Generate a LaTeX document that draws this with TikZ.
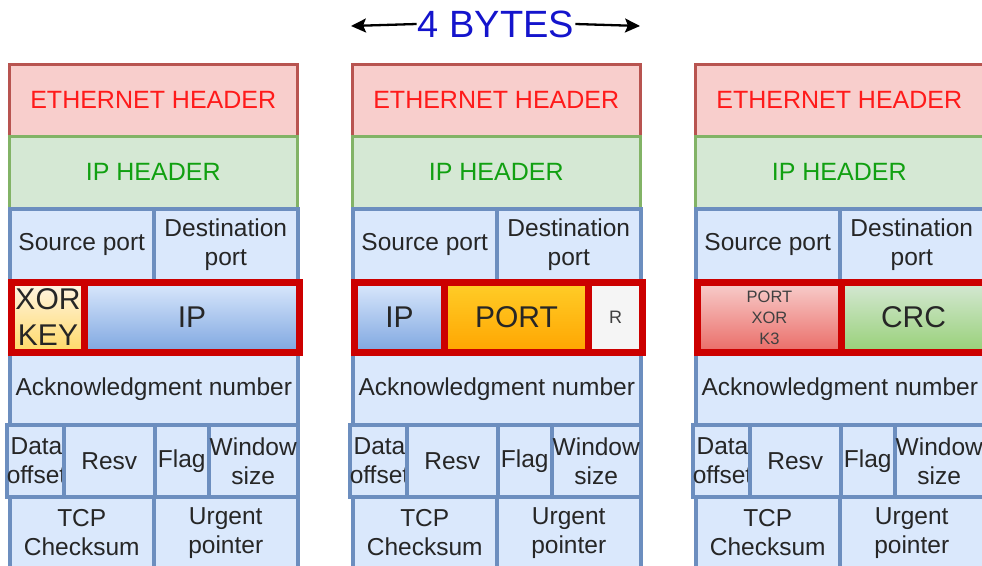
\documentclass[tikz,border=0pt]{standalone}
\usepackage{fontspec}
\setmainfont{Liberation Sans}
\usetikzlibrary{arrows.meta}
\definecolor{ethfill}{HTML}{F8CECC}
\definecolor{ethline}{HTML}{B85450}
\definecolor{ethtext}{HTML}{FF1A1A}
\definecolor{iphfill}{HTML}{D5E8D4}
\definecolor{iphline}{HTML}{82B366}
\definecolor{iphtext}{HTML}{11A011}
\definecolor{tcpfill}{HTML}{DAE8FC}
\definecolor{tcpline}{HTML}{6C8EBF}
\definecolor{keyline}{HTML}{CC0000}
\definecolor{bytetext}{HTML}{1414CC}

\begin{document}
\begin{tikzpicture}[x=1pt, y=-1pt,
  cell/.style={inner sep=0pt, anchor=north west, align=center, text=black!85,
    font=\fontsize{24.5}{29}\selectfont},
  ethbox/.style={cell, draw=ethline, fill=ethfill, text=ethtext, line width=2.5pt,
    font=\fontsize{25}{29}\selectfont},
  iphbox/.style={cell, draw=iphline, fill=iphfill, text=iphtext, line width=2.5pt,
    font=\fontsize{25}{29}\selectfont},
  tcpbox/.style={cell, draw=tcpline, fill=tcpfill, line width=3.5pt},
  keybox/.style={cell, draw=keyline, line width=7pt, minimum height=70pt,
    font=\fontsize{30}{36}\selectfont},
]
\useasboundingbox (0,0) rectangle (982,565);
\newcommand\rowh{72}
\newcommand\colw{288}
\newcommand\half{144}

% width marker
\node[text=bytetext, font=\fontsize{38}{40}\selectfont, inner sep=1pt] (bytes) at (496, 24) {4 BYTES};
\coordinate (bytesl) at (351, 26);
\coordinate (bytesr) at (640, 26);
\draw[-{Stealth[length=15pt, width=14pt, inset=3pt]}, line width=2.3pt] (bytes.west) -- (bytesl);
\draw[-{Stealth[length=15pt, width=14pt, inset=3pt]}, line width=2.3pt] (bytes.east) -- (bytesr);

\foreach \c in {0,1,2}
{
\pgfmathsetmacro\x{8+343*\c}
% ethernet / ip header
\node[ethbox, minimum width=\colw pt, minimum height=\rowh pt] (eth\c) at (\x, 63) {ETHERNET HEADER};
\node[iphbox, minimum width=\colw pt, minimum height=\rowh pt] (iph\c) at (\x, 135) {IP HEADER};
% ports
\node[tcpbox, minimum width=\half pt, minimum height=\rowh pt] (src\c) at (\x, 207) {Source port};
\node[tcpbox, minimum width=\half pt, minimum height=\rowh pt] (dst\c) at (\x+\half, 207) {Destination\\port};
% ack
\node[tcpbox, minimum width=\colw pt, minimum height=\rowh pt] (ack\c) at (\x, 351) {Acknowledgment number};
% offset, resv, flag, window
\node[tcpbox, minimum width=57pt, minimum height=\rowh pt] (doff\c) at (\x-3, 423) {Data\\offset};
\node[tcpbox, minimum width=91pt, minimum height=\rowh pt] (resv\c) at (\x+54, 423) {Resv};
\node[tcpbox, minimum width=54pt, minimum height=\rowh pt] (flag\c) at (\x+145, 423) {Flag};
\node[tcpbox, minimum width=89pt, minimum height=\rowh pt] (win\c) at (\x+199, 423) {Window\\size};
% checksum, urgent
\node[tcpbox, minimum width=\half pt, minimum height=\rowh pt] (sum\c) at (\x, 495) {TCP\\Checksum};
\node[tcpbox, minimum width=\half pt, minimum height=\rowh pt] (urg\c) at (\x+\half, 495) {Urgent\\pointer};
}

% red row, left
\node[keybox, minimum width=73pt, top color=yellow!20!orange!10!white, bottom color={rgb,255:red,255;green,217;blue,102}] (keyA) at (8, 279) {XOR\\KEY};
\node[keybox, minimum width=215pt, top color=tcpfill, bottom color={rgb,255:red,126;green,166;blue,224}] (ipA) at (81, 279) {IP};
% red row, middle
\node[keybox, minimum width=90pt, top color=tcpfill, bottom color={rgb,255:red,126;green,166;blue,224}] (ipB) at (351, 279) {IP};
\node[keybox, minimum width=144pt, top color={rgb,255:red,255;green,205;blue,40}, bottom color={rgb,255:red,255;green,165;blue,0}] (portB) at (441, 279) {PORT};
\node[keybox, minimum width=54pt, fill={rgb,255:red,245;green,245;blue,245}, font=\fontsize{18}{20}\selectfont, text=black!75] (rB) at (585, 279) {R};
% red row, right
\node[keybox, minimum width=144pt, top color=ethfill, bottom color={rgb,255:red,234;green,107;blue,102}, font=\fontsize{16.5}{21}\selectfont, text=black!75] (xorC) at (694, 279) {PORT\\XOR\\K3};
\node[keybox, minimum width=144pt, top color=iphfill, bottom color={rgb,255:red,151;green,208;blue,119}] (crcC) at (838, 279) {CRC};
\end{tikzpicture}
\end{document}
